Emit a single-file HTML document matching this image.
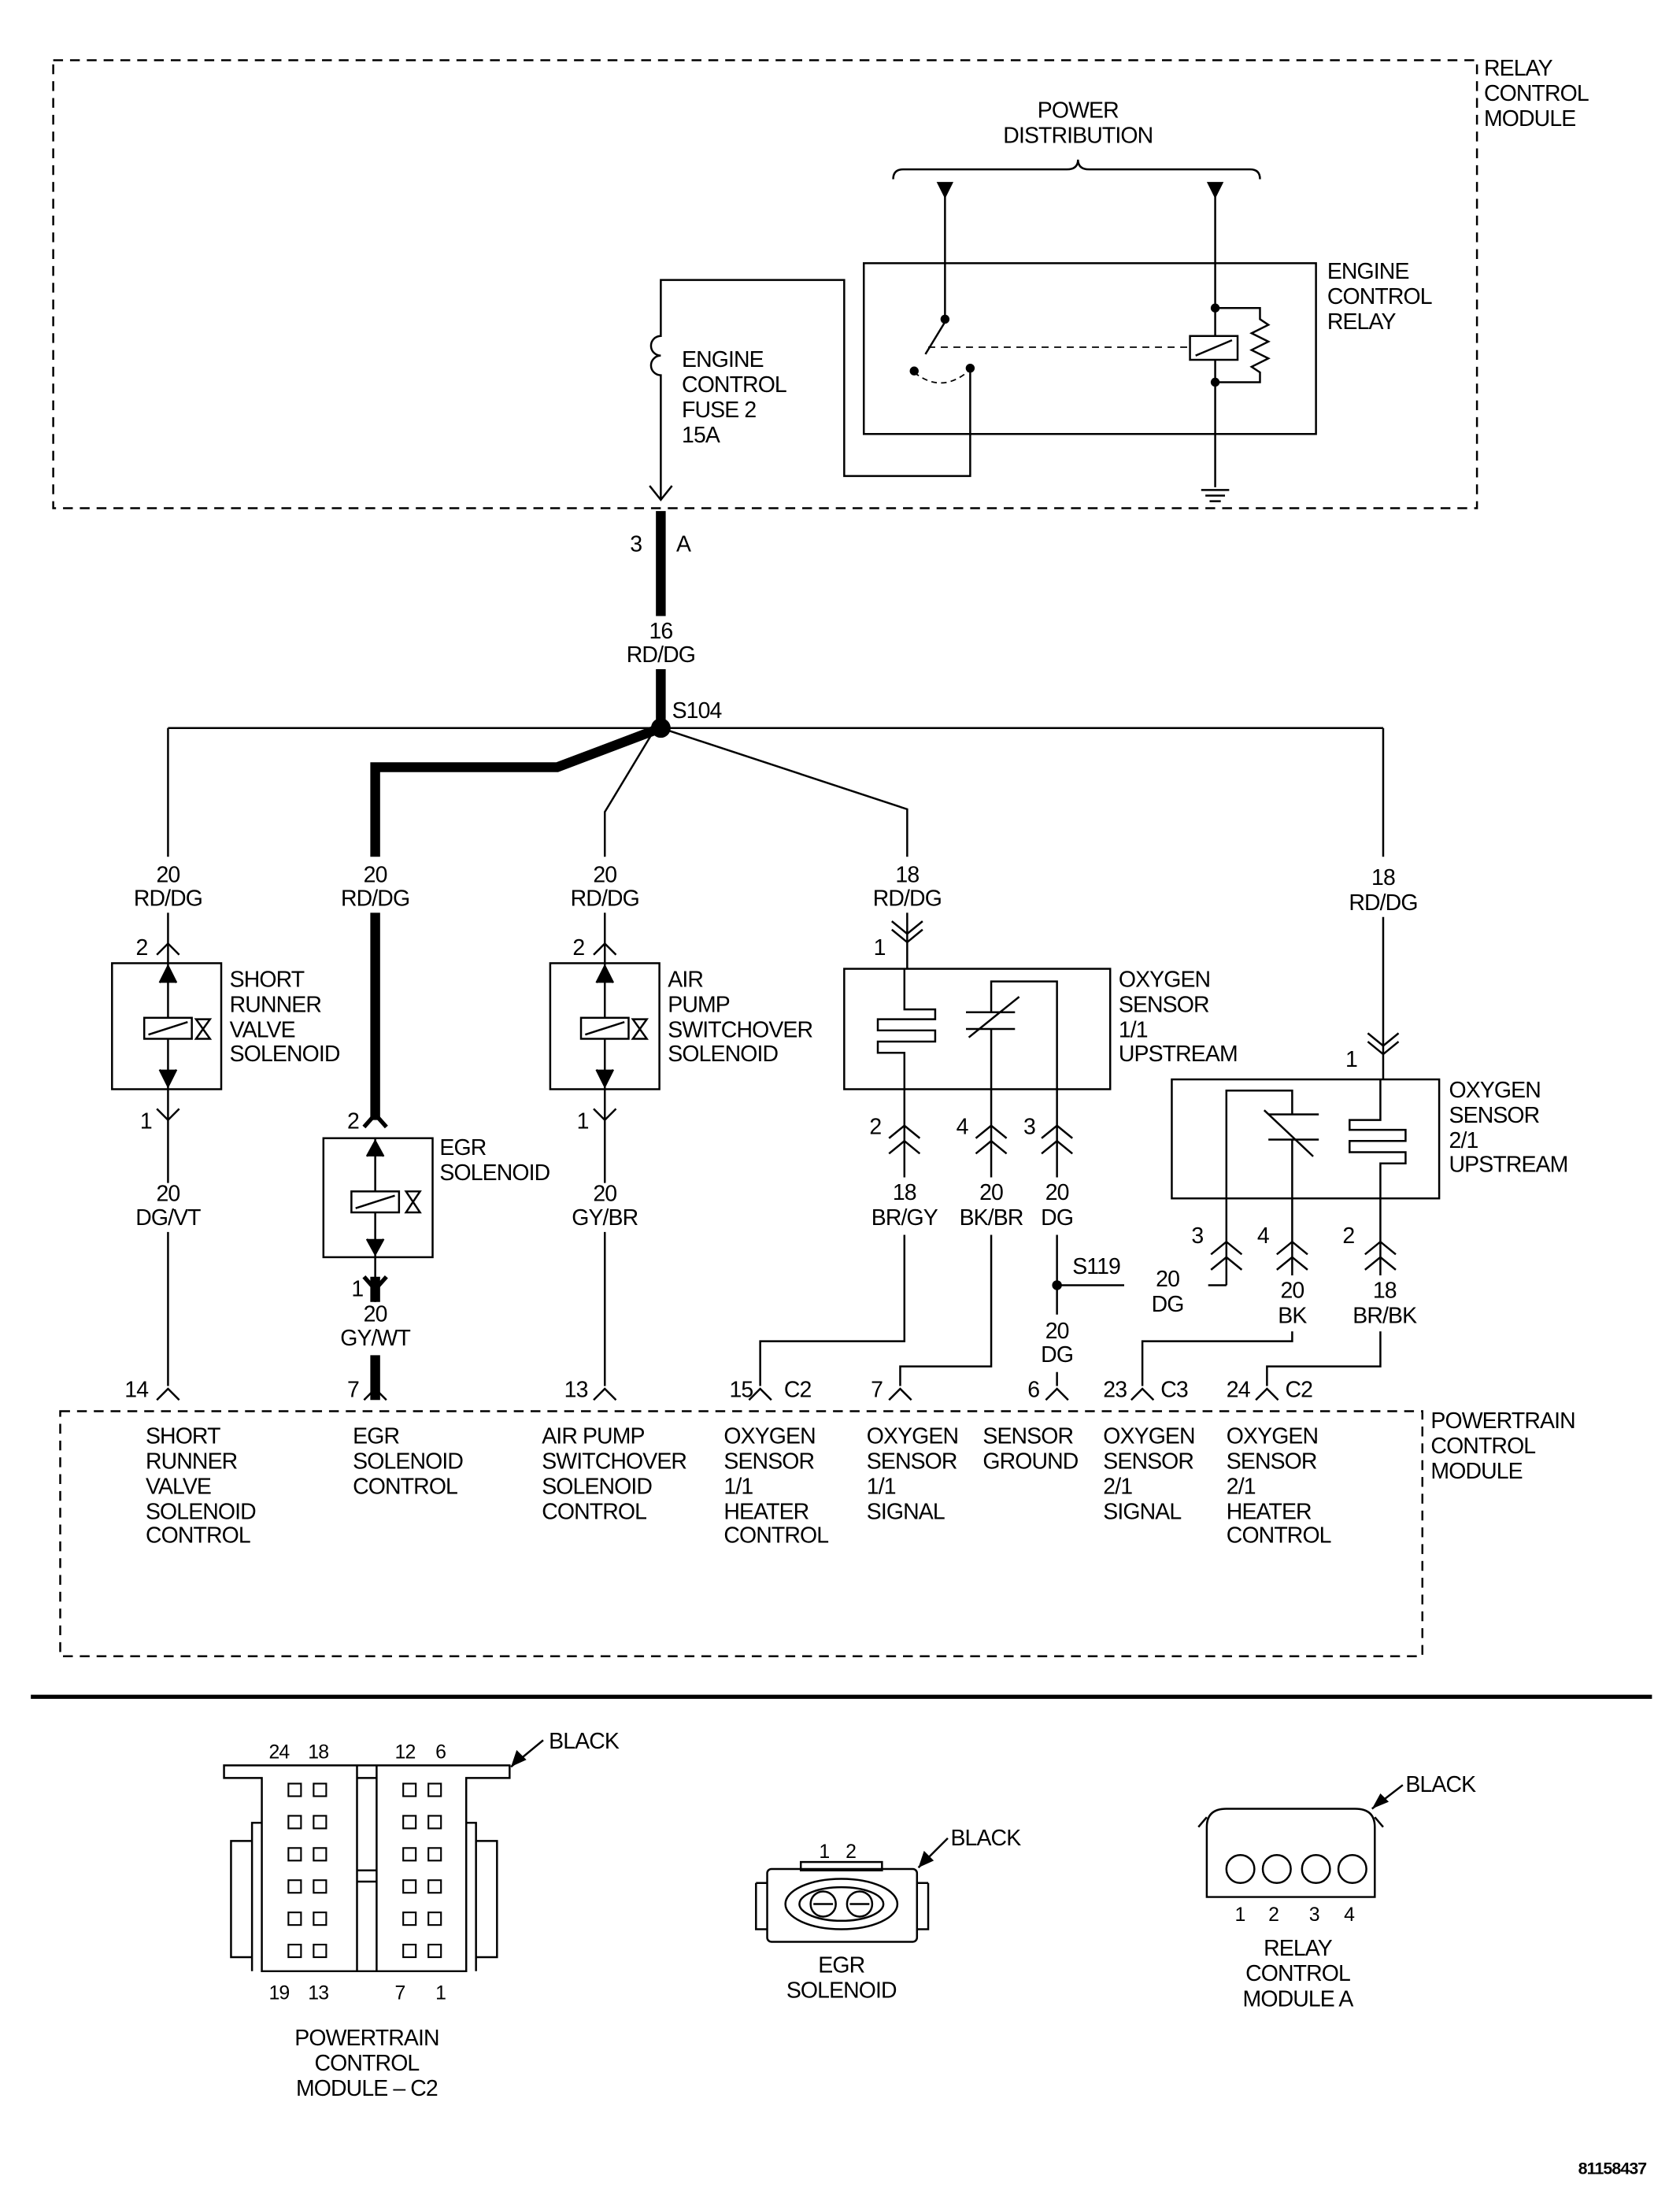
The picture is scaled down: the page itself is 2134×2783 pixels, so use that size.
<!DOCTYPE html>
<html><head><meta charset="utf-8"><style>
html,body{margin:0;padding:0;background:#fff}
svg{display:block}
text{font-family:"Liberation Sans",Arial,sans-serif;font-size:16px;letter-spacing:-0.5px;fill:#000}
.m{text-anchor:middle}
</style></head><body>
<svg xmlns="http://www.w3.org/2000/svg" width="2134" height="2783" viewBox="0 0 1200 1565">
<defs>
<path id="up" d="M-8,8 L0,0 L8,8" fill="none" stroke="#000" stroke-width="1.4"/>
<path id="dn" d="M-8,-8 L0,0 L8,-8" fill="none" stroke="#000" stroke-width="1.4"/>
<path id="up2" d="M-11,9 L0,0 L11,9 M-11,20 L0,11 L11,20" fill="none" stroke="#000" stroke-width="1.4"/>
<path id="dn2" d="M-11,-9 L0,0 L11,-9 M-11,-15 L0,-6 L11,-15" fill="none" stroke="#000" stroke-width="1.4"/>
</defs>
<g fill="none" stroke="#000" stroke-width="1.4">
<rect x="38" y="43" width="1017" height="320" stroke-dasharray="7,5"/>
<path d="M638,128 Q638,121 645,121 L762,121 Q770,121 770,114 Q770,121 778,121 L893,121 Q900,121 900,128"/>
<rect x="617" y="188" width="323" height="122"/>
<path d="M675,140 V228"/>
<path d="M675,230 L661,253"/>
<path d="M868,140 V348"/>
<path d="M868,220 H900 V228 L906,232 L894,238 L906,244 L894,250 L906,256 L894,262 L900,266 V273 H868"/>
<rect x="850" y="240" width="34" height="17" fill="#fff"/>
<path d="M854,254 L880,243"/>
<path d="M663,248 H850" stroke-dasharray="5,4" stroke-width="1"/>
<path d="M653,266 Q673,282 693,264" stroke-dasharray="4,3" stroke-width="1"/>
<path d="M858,350 H878 M861,354 H875 M864,358 H872"/>
<path d="M693,263 V340 H603 V200 H472 V240 A7,7 0 0 0 472,254 A7,7 0 0 0 472,268 V356"/>
<path d="M464,347 L472,357 L480,347"/>
<path d="M472,365 V440 M472,478 V520" stroke-width="7"/>
<path d="M120,520 H988"/>
<path d="M120,520 V612 M120,652 V674"/>
<path d="M988,520 V612 M988,655 V771"/>
<path d="M472,520 L398,548 H268 V612 M268,652 V800" stroke-width="7"/>
<path d="M467,522 L432,580 V612 M432,652 V674"/>
<path d="M472,520 L648,578 V612 M648,652 V692"/>
<!-- SRV solenoid -->
<rect x="80" y="688" width="78" height="90"/>
<path d="M120,674 V727 M120,742 V845"/>
<path d="M114,702 L120,690 L126,702 M114,764 L120,776 L126,764" fill="#000"/>
<rect x="103" y="727" width="34" height="15" fill="#fff"/>
<path d="M106,739 L134,730"/>
<path d="M140,728 L150,742 L140,742 L150,728 Z"/>
<path d="M120,880 V990"/>
<!-- Air pump solenoid -->
<rect x="393" y="688" width="78" height="90"/>
<path d="M432,674 V727 M432,742 V845"/>
<path d="M426,702 L432,690 L438,702 M426,764 L432,776 L438,764" fill="#000"/>
<rect x="415" y="727" width="34" height="15" fill="#fff"/>
<path d="M418,739 L446,730"/>
<path d="M452,728 L462,742 L452,742 L462,728 Z"/>
<path d="M432,880 V990"/>
<!-- EGR solenoid -->
<rect x="231" y="813" width="78" height="85"/>
<path d="M268,813 V852 M268,866 V898"/>
<path d="M262,826 L268,815 L274,826 M262,885 L268,896 L274,885" fill="#000"/>
<rect x="251" y="851" width="34" height="15" fill="#fff"/>
<path d="M254,863 L282,854"/>
<path d="M290,851 L300,866 L290,866 L300,851 Z"/>
<path d="M268,898 V930"/>
<path d="M268,912 V930 M268,968 V1000" stroke-width="7"/>
<path d="M260,805 L268,796 L276,805" stroke-width="3"/>
<path d="M260,912 L268,921 L276,912" stroke-width="3"/>
<!-- O2 1/1 -->
<rect x="603" y="692" width="190" height="86"/>
<path d="M646,692 V721 H668 V728 H627 V736 H668 V744 H627 V752 H646 V841 M646,882 V958 H543 V990"/>
<path d="M708,778 V735 M708,723 V701 H755 V841 M708,841 V778 M708,882 V976 H643 V990"/>
<path d="M690,723 H725 M690,735 H725"/>
<path d="M692,741 L728,712"/>
<path d="M755,882 V939 M755,980 V990"/>
<path d="M755,918 H803"/>
<!-- O2 2/1 -->
<rect x="837" y="771" width="191" height="85"/>
<path d="M986,771 V800 H964 V807 H1004 V815 H964 V823 H1004 V831 H986 V911 M986,951 V976 H905 V990"/>
<path d="M876,918 V779 H923 V796 M923,814 V911 M923,951 V958 H816 V990"/>
<path d="M906,796 H942 M906,814 H942"/>
<path d="M938,826 L903,793"/>
<path d="M876,918 H863"/>
<rect x="43" y="1008" width="973" height="175" stroke-dasharray="7,5"/>
<path d="M22,1212 H1180" stroke-width="3"/>
<path d="M160,1261 H364 V1270 H333 V1408 H187 V1270 H160 Z"/>
<path d="M255,1261 V1408 M269,1261 V1408 M255,1270 H269 M255,1336 H269 M255,1344 H269"/>
<path d="M187,1302 H180 V1408 M180,1315 H165 V1398 H180"/>
<path d="M333,1302 H340 V1408 M340,1315 H355 V1398 H340"/>
<path d="M388,1243 L365,1262"/>
<rect x="548" y="1335" width="107" height="52" rx="3"/>
<path d="M540,1345 V1378 H548 M540,1345 H548 M663,1345 V1378 H655 M663,1345 H655"/>
<rect x="572" y="1330" width="58" height="6"/>
<ellipse cx="601" cy="1360" rx="40" ry="18"/>
<ellipse cx="601" cy="1360" rx="30" ry="12"/>
<circle cx="588" cy="1360" r="9"/>
<circle cx="614" cy="1360" r="9"/>
<path d="M581,1360 H595 M607,1360 H621"/>
<path d="M677,1313 L656,1334"/>
<path d="M862,1355 V1305 Q862,1292 876,1292 H968 Q982,1292 982,1305 V1355 Z"/>
<path d="M856,1305 L862,1298 M988,1305 L982,1298"/>
<circle cx="886" cy="1335" r="10"/><circle cx="912" cy="1335" r="10"/>
<circle cx="940" cy="1335" r="10"/><circle cx="966" cy="1335" r="10"/>
<path d="M1002,1275 L980,1292"/>
</g>
<g fill="#000">
<polygon points="669,130 681,130 675,142"/>
<polygon points="862,130 874,130 868,142"/>
<circle cx="675" cy="228" r="3.2"/><circle cx="653" cy="265" r="3.2"/><circle cx="693" cy="263" r="3.2"/>
<circle cx="868" cy="220" r="3.2"/><circle cx="868" cy="273" r="3.2"/>
<circle cx="472" cy="520" r="7"/>
<circle cx="755" cy="918" r="3.5"/>
<polygon points="365,1262 369,1250 376,1257"/>
<polygon points="656,1334 660,1322 667,1329"/>
<polygon points="980,1292 986,1281 992,1287"/>
</g>
<use href="#up" x="120" y="674"/><use href="#dn" x="120" y="800"/>
<use href="#up" x="432" y="674"/><use href="#dn" x="432" y="800"/>
<use href="#dn2" x="648" y="673"/><use href="#dn2" x="988" y="753"/>
<use href="#up2" x="646" y="804"/><use href="#up2" x="708" y="804"/><use href="#up2" x="755" y="804"/>
<use href="#up2" x="876" y="887"/><use href="#up2" x="923" y="887"/><use href="#up2" x="986" y="887"/>
<use href="#up" x="120" y="992"/><use href="#up" x="268" y="992"/><use href="#up" x="432" y="992"/>
<use href="#up" x="543" y="992"/><use href="#up" x="643" y="992"/><use href="#up" x="755" y="992"/>
<use href="#up" x="816" y="992"/><use href="#up" x="905" y="992"/>
<g fill="none" stroke="#000" stroke-width="1.2">
<g id="sq"><rect x="206" y="1274" width="9" height="9"/><rect x="224" y="1274" width="9" height="9"/><rect x="288" y="1274" width="9" height="9"/><rect x="306" y="1274" width="9" height="9"/></g>
<use href="#sq" y="23"/><use href="#sq" y="46"/><use href="#sq" y="69"/><use href="#sq" y="92"/><use href="#sq" y="115"/>
</g>
<text x="1060" y="54">RELAY</text><text x="1060" y="72">CONTROL</text><text x="1060" y="90">MODULE</text>
<text x="770" y="84" class="m">POWER</text><text x="770" y="102" class="m">DISTRIBUTION</text>
<text x="948" y="199">ENGINE</text><text x="948" y="217">CONTROL</text><text x="948" y="235">RELAY</text>
<text x="487" y="262">ENGINE</text><text x="487" y="280">CONTROL</text><text x="487" y="298">FUSE 2</text><text x="487" y="316">15A</text>
<text x="450" y="394">3</text><text x="483" y="394">A</text>
<text x="472" y="456" class="m">16</text><text x="472" y="473" class="m">RD/DG</text>
<text x="480" y="513">S104</text>
<text x="120" y="630" class="m">20</text><text x="120" y="647" class="m">RD/DG</text>
<text x="268" y="630" class="m">20</text><text x="268" y="647" class="m">RD/DG</text>
<text x="432" y="630" class="m">20</text><text x="432" y="647" class="m">RD/DG</text>
<text x="648" y="630" class="m">18</text><text x="648" y="647" class="m">RD/DG</text>
<text x="988" y="632" class="m">18</text><text x="988" y="650" class="m">RD/DG</text>
<text x="97" y="682">2</text><text x="409" y="682">2</text><text x="624" y="682">1</text><text x="961" y="762">1</text>
<text x="164" y="705">SHORT</text><text x="164" y="723">RUNNER</text><text x="164" y="741">VALVE</text><text x="164" y="758">SOLENOID</text>
<text x="477" y="705">AIR</text><text x="477" y="723">PUMP</text><text x="477" y="741">SWITCHOVER</text><text x="477" y="758">SOLENOID</text>
<text x="799" y="705">OXYGEN</text><text x="799" y="723">SENSOR</text><text x="799" y="741">1/1</text><text x="799" y="758">UPSTREAM</text>
<text x="1035" y="784">OXYGEN</text><text x="1035" y="802">SENSOR</text><text x="1035" y="820">2/1</text><text x="1035" y="837">UPSTREAM</text>
<text x="314" y="825">EGR</text><text x="314" y="843">SOLENOID</text>
<text x="100" y="806">1</text><text x="412" y="806">1</text><text x="248" y="806">2</text><text x="251" y="926">1</text>
<text x="621" y="810">2</text><text x="683" y="810">4</text><text x="731" y="810">3</text>
<text x="851" y="888">3</text><text x="898" y="888">4</text><text x="959" y="888">2</text>
<text x="120" y="858" class="m">20</text><text x="120" y="875" class="m">DG/VT</text>
<text x="432" y="858" class="m">20</text><text x="432" y="875" class="m">GY/BR</text>
<text x="268" y="944" class="m">20</text><text x="268" y="961" class="m">GY/WT</text>
<text x="646" y="857" class="m">18</text><text x="646" y="875" class="m">BR/GY</text>
<text x="708" y="857" class="m">20</text><text x="708" y="875" class="m">BK/BR</text>
<text x="755" y="857" class="m">20</text><text x="755" y="875" class="m">DG</text>
<text x="766" y="910">S119</text>
<text x="755" y="956" class="m">20</text><text x="755" y="973" class="m">DG</text>
<text x="834" y="919" class="m">20</text><text x="834" y="937" class="m">DG</text>
<text x="923" y="927" class="m">20</text><text x="923" y="945" class="m">BK</text>
<text x="989" y="927" class="m">18</text><text x="989" y="945" class="m">BR/BK</text>
<text x="89" y="998">14</text><text x="248" y="998">7</text><text x="403" y="998">13</text>
<text x="521" y="998">15</text><text x="560" y="998">C2</text><text x="622" y="998">7</text><text x="734" y="998">6</text>
<text x="788" y="998">23</text><text x="829" y="998">C3</text><text x="876" y="998">24</text><text x="918" y="998">C2</text>
<text x="1022" y="1020">POWERTRAIN</text><text x="1022" y="1038">CONTROL</text><text x="1022" y="1056">MODULE</text>
<text x="104" y="1031">SHORT</text><text x="104" y="1049">RUNNER</text><text x="104" y="1067">VALVE</text><text x="104" y="1085">SOLENOID</text><text x="104" y="1102">CONTROL</text>
<text x="252" y="1031">EGR</text><text x="252" y="1049">SOLENOID</text><text x="252" y="1067">CONTROL</text>
<text x="387" y="1031">AIR PUMP</text><text x="387" y="1049">SWITCHOVER</text><text x="387" y="1067">SOLENOID</text><text x="387" y="1085">CONTROL</text>
<text x="517" y="1031">OXYGEN</text><text x="517" y="1049">SENSOR</text><text x="517" y="1067">1/1</text><text x="517" y="1085">HEATER</text><text x="517" y="1102">CONTROL</text>
<text x="619" y="1031">OXYGEN</text><text x="619" y="1049">SENSOR</text><text x="619" y="1067">1/1</text><text x="619" y="1085">SIGNAL</text>
<text x="702" y="1031">SENSOR</text><text x="702" y="1049">GROUND</text>
<text x="788" y="1031">OXYGEN</text><text x="788" y="1049">SENSOR</text><text x="788" y="1067">2/1</text><text x="788" y="1085">SIGNAL</text>
<text x="876" y="1031">OXYGEN</text><text x="876" y="1049">SENSOR</text><text x="876" y="1067">2/1</text><text x="876" y="1085">HEATER</text><text x="876" y="1102">CONTROL</text>
<text x="192" y="1256" style="font-size:14px">24</text><text x="220" y="1256" style="font-size:14px">18</text>
<text x="282" y="1256" style="font-size:14px">12</text><text x="311" y="1256" style="font-size:14px">6</text>
<text x="392" y="1249">BLACK</text>
<text x="192" y="1428" style="font-size:14px">19</text><text x="220" y="1428" style="font-size:14px">13</text>
<text x="282" y="1428" style="font-size:14px">7</text><text x="311" y="1428" style="font-size:14px">1</text>
<text x="262" y="1461" class="m">POWERTRAIN</text><text x="262" y="1479" class="m">CONTROL</text><text x="262" y="1497" class="m">MODULE – C2</text>
<text x="585" y="1327" style="font-size:14px">1</text><text x="604" y="1327" style="font-size:14px">2</text>
<text x="679" y="1318">BLACK</text>
<text x="601" y="1409" class="m">EGR</text><text x="601" y="1427" class="m">SOLENOID</text>
<text x="1004" y="1280">BLACK</text>
<text x="882" y="1372" style="font-size:14px">1</text><text x="906" y="1372" style="font-size:14px">2</text>
<text x="935" y="1372" style="font-size:14px">3</text><text x="960" y="1372" style="font-size:14px">4</text>
<text x="927" y="1397" class="m">RELAY</text><text x="927" y="1415" class="m">CONTROL</text><text x="927" y="1433" class="m">MODULE A</text>
<text x="1176" y="1553" style="font-size:12px;font-weight:bold;text-anchor:end">81158437</text>
</svg>
</body></html>
